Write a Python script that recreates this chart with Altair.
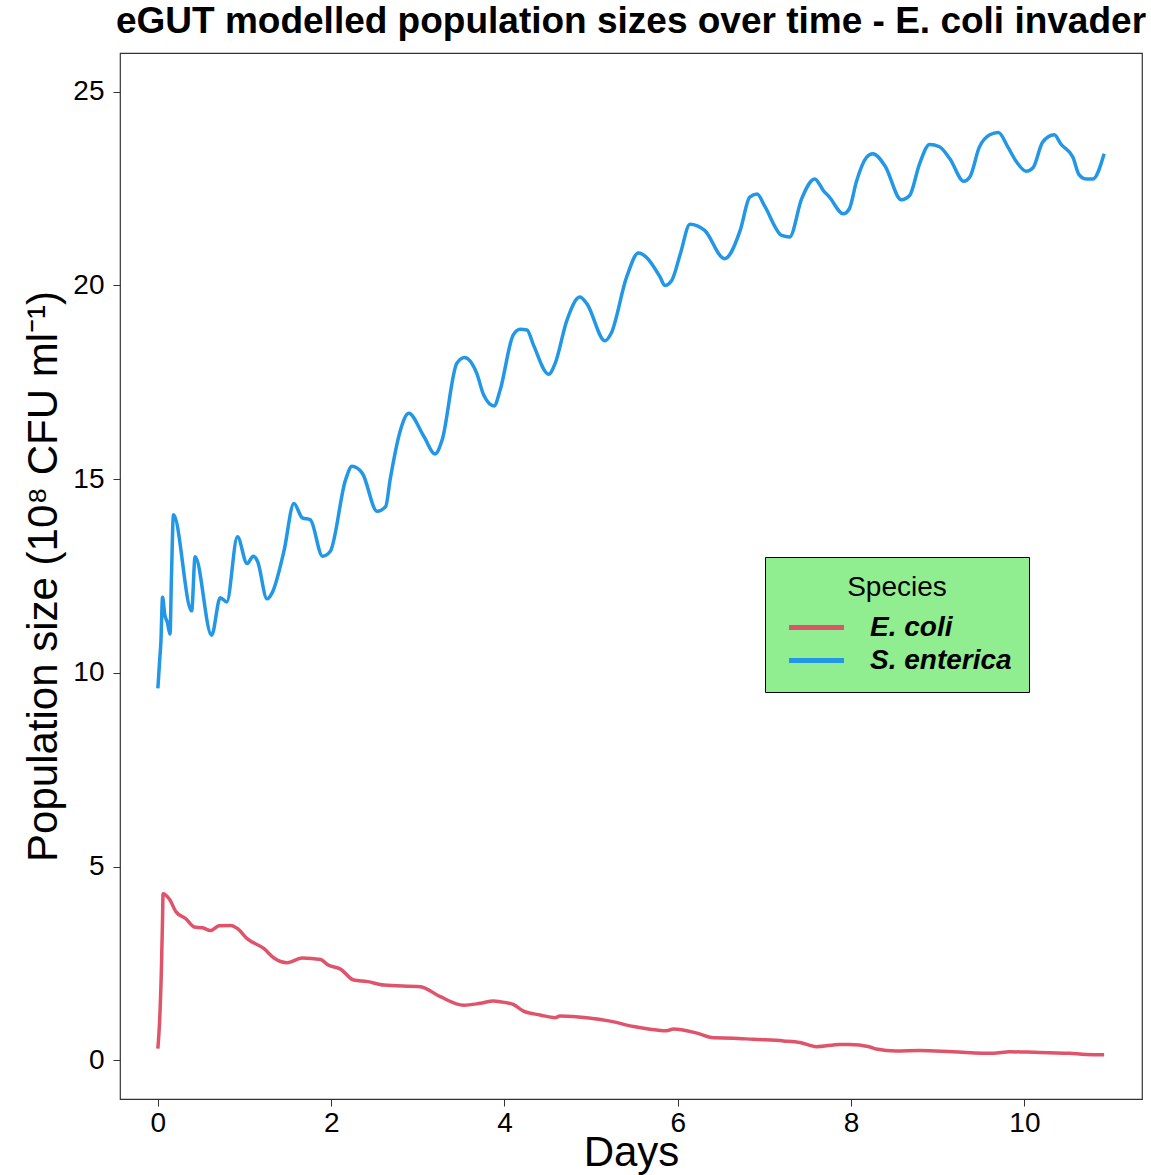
import altair as alt
import pandas as pd

# ---- data ----
ecoli_days = [0.0, 0.02, 0.04, 0.054, 0.06, 0.13, 0.21, 0.32, 0.42, 0.515, 0.61, 0.706,
              0.84, 0.918, 1.03, 1.225, 1.34, 1.49, 1.667, 1.88, 1.955, 2.11, 2.26, 2.42,
              2.61, 3.03, 3.26, 3.53, 3.72, 3.875, 3.95, 4.10, 4.22, 4.41, 4.585, 4.64,
              4.95, 5.22, 5.49, 5.68, 5.87, 5.95, 6.22, 6.41, 6.64, 6.87, 7.22, 7.41,
              7.60, 7.87, 7.98, 8.21, 8.29, 8.52, 8.79, 9.17, 9.64, 9.83, 10.02, 10.52,
              10.71, 10.92]
ecoli_pop = [0.3, 1.0, 2.28, 3.66, 4.30, 4.17, 3.83, 3.66, 3.44, 3.42, 3.35, 3.47,
             3.48, 3.40, 3.14, 2.88, 2.64, 2.52, 2.64, 2.60, 2.47, 2.35, 2.07, 2.03,
             1.94, 1.90, 1.64, 1.42, 1.47, 1.53, 1.51, 1.44, 1.27, 1.17, 1.10, 1.14,
             1.10, 1.01, 0.87, 0.80, 0.76, 0.81, 0.70, 0.58, 0.57, 0.54, 0.50, 0.46,
             0.35, 0.41, 0.41, 0.35, 0.29, 0.24, 0.25, 0.22, 0.18, 0.22, 0.21, 0.18,
             0.15, 0.14]

senterica_days = [0.0, 0.02, 0.035, 0.054, 0.08, 0.11, 0.14, 0.157, 0.18, 0.39, 0.43,
                  0.62, 0.72, 0.795, 0.918, 1.03, 1.10, 1.15, 1.26, 1.32, 1.455, 1.57,
                  1.667, 1.76, 1.90, 1.99, 2.166, 2.24, 2.36, 2.53, 2.63, 2.68, 2.80,
                  2.895, 3.07, 3.20, 3.28, 3.45, 3.54, 3.68, 3.76, 3.88, 3.95, 4.10,
                  4.18, 4.26, 4.335, 4.51, 4.585, 4.72, 4.87, 4.95, 5.16, 5.23, 5.41,
                  5.545, 5.795, 5.85, 5.93, 6.03, 6.14, 6.31, 6.54, 6.72, 6.83, 6.915,
                  7.0, 7.20, 7.29, 7.43, 7.58, 7.68, 7.75, 7.91, 7.98, 8.06, 8.18, 8.25,
                  8.39, 8.58, 8.675, 8.79, 8.905, 9.02, 9.14, 9.30, 9.37, 9.48, 9.60,
                  9.70, 9.81, 9.90, 10.02, 10.10, 10.21, 10.345, 10.42, 10.56, 10.63,
                  10.71, 10.79, 10.92]
senterica_pop = [9.6, 10.3, 10.8, 11.95, 11.5, 11.3, 11.0, 12.5, 14.08, 11.6, 13.0,
                 10.97, 11.94, 11.83, 13.51, 12.82, 13.01, 12.88, 11.91, 12.07, 13.14, 14.37,
                 14.0, 13.95, 13.01, 13.14, 14.98, 15.33, 15.15, 14.17, 14.3, 14.98, 16.27,
                 16.70, 16.1, 15.65, 16.01, 17.99, 18.14, 17.73, 17.17, 16.89, 17.3, 18.72,
                 18.87, 18.85, 18.46, 17.71, 17.99, 19.10, 19.70, 19.53, 18.57, 18.76, 20.22,
                 20.84, 20.22, 20.0, 20.13, 20.82, 21.58, 21.42, 20.69, 21.42, 22.28, 22.36,
                 22.06, 21.29, 21.25, 22.24, 22.75, 22.45, 22.28, 21.85, 21.98, 22.67, 23.31, 23.40,
                 23.09, 22.21, 22.32, 23.14, 23.64, 23.58, 23.27, 22.69, 22.80, 23.57, 23.89,
                 23.95, 23.57, 23.22, 22.95, 23.04, 23.70, 23.89, 23.65, 23.31, 22.86,
                 22.75, 22.75, 23.40]

species = ["E. coli", "S. enterica"]
colors = ["#DF536B", "#2297E6"]
x_ticks = [0, 2, 4, 6, 8, 10]
y_ticks = [0, 5, 10, 15, 20, 25]

df = pd.concat([
    pd.DataFrame({"Days": ecoli_days, "Pop": ecoli_pop, "Species": species[0], "ord": range(len(ecoli_days))}),
    pd.DataFrame({"Days": senterica_days, "Pop": senterica_pop, "Species": species[1], "ord": range(len(senterica_days))}),
])

FONT = "Liberation Sans"

chart = alt.Chart(df).mark_line(strokeWidth=3.5, strokeJoin="round", interpolate="monotone").encode(
    x=alt.X("Days:Q",
            scale=alt.Scale(domain=[-0.437, 11.357], nice=False, zero=False),
            axis=alt.Axis(values=x_ticks, title="Days", grid=False, domain=False,
                          tickSize=7, tickColor="#333333", labelFontSize=28,
                          labelColor="black", labelPadding=3, labelFont=FONT,
                          titleFont=FONT, titleFontSize=42, titleFontWeight="normal",
                          titleColor="black", titleBaseline="alphabetic", titleY=66)),
    y=alt.Y("Pop:Q",
            scale=alt.Scale(domain=[-1, 26], nice=False, zero=False),
            axis=alt.Axis(values=y_ticks, title="Population size (10⁸ CFU ml⁻¹)",
                          grid=False, domain=False, tickSize=7, tickColor="#333333",
                          labelFontSize=28, labelColor="black", labelPadding=9,
                          labelFont=FONT, titleFont=FONT, titleFontSize=42,
                          titleFontWeight="normal", titleColor="black",
                          titleBaseline="alphabetic", titleX=-64)),
    color=alt.Color("Species:N",
                    scale=alt.Scale(domain=species, range=colors),
                    legend=alt.Legend(orient="none", legendX=645, legendY=504,
                                      title="Species", titleFontSize=28,
                                      titleFontWeight="normal", titleFont=FONT,
                                      titleColor="black",
                                      titleAnchor="middle", titleAlign="center",
                                      labelFontSize=28, labelFontStyle="italic",
                                      labelFontWeight="bold", labelFont=FONT,
                                      labelColor="black",
                                      symbolType="M-2,0L2,0", symbolStrokeWidth=5,
                                      symbolSize=756, symbolOffset=18,
                                      fillColor="#90EE90",
                                      strokeColor="black", padding=17,
                                      labelOffset=37, titlePadding=9, rowPadding=2)),
    order="ord:Q",
).properties(
    width=1022,
    height=1046,
    autosize=alt.AutoSizeParams(type="none"),
    padding={"left": 120, "top": 53, "right": 9, "bottom": 76},
    title=alt.TitleParams(
        "eGUT modelled population sizes over time - E. coli invader",
        fontSize=37, fontWeight="bold", font=FONT, color="black",
        anchor="middle", offset=12),
).configure(
    background="white"
).configure_view(
    stroke="#333333", strokeWidth=1.2
)

chart.save("out.html", embed_options={"renderer": "svg", "actions": False})
